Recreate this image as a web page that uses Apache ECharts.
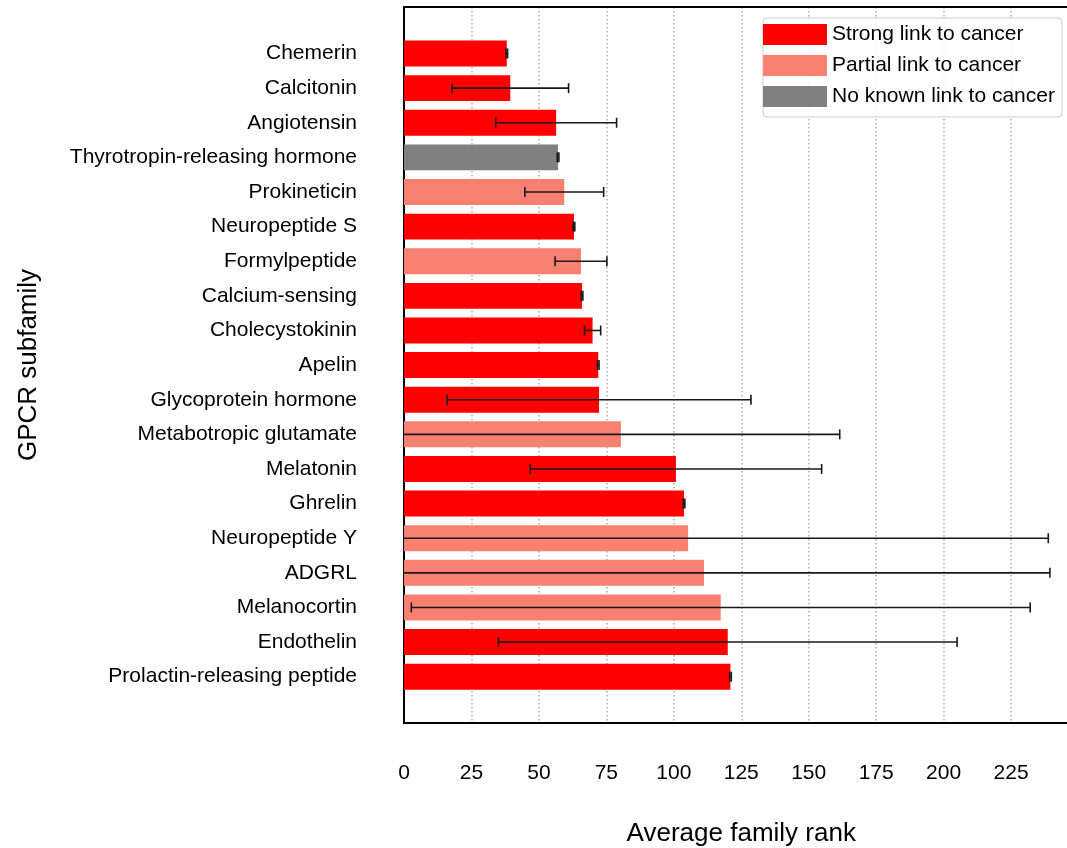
<!DOCTYPE html>
<html>
<head>
<meta charset="utf-8">
<title>GPCR subfamily average rank</title>
<script src="https://cdn.jsdelivr.net/npm/echarts@6/dist/echarts.min.js"></script>
<style>
  html, body { margin: 0; padding: 0; background: #ffffff; }
  #chart { width: 1067px; height: 848px; }
</style>
</head>
<body>
<div id="chart"></div>
<script>
// GPCR subfamilies, top to bottom
const subfamilies = [
  'Chemerin', 'Calcitonin', 'Angiotensin', 'Thyrotropin-releasing hormone',
  'Prokineticin', 'Neuropeptide S', 'Formylpeptide', 'Calcium-sensing',
  'Cholecystokinin', 'Apelin', 'Glycoprotein hormone', 'Metabotropic glutamate',
  'Melatonin', 'Ghrelin', 'Neuropeptide Y', 'ADGRL', 'Melanocortin',
  'Endothelin', 'Prolactin-releasing peptide'
];
// average family rank
const avgRank = [
  38.1, 39.4, 56.4, 57.1, 59.4, 63.0, 65.6, 66.0, 69.9, 72.0,
  72.3, 80.4, 100.8, 103.8, 105.3, 111.2, 117.4, 120.0, 121.0
];
// spread of the rank (drawn as +/- error bars)
const rankErr = [
  0.3, 21.6, 22.4, 0.3, 14.6, 0.3, 9.6, 0.3, 3.0, 0.3,
  56.3, 81.1, 54.0, 0.3, 133.5, 128.2, 114.7, 85.0, 0.3
];
// link to cancer: S = strong, P = partial, N = no known link
const cancerLink = [
  'S', 'S', 'S', 'N', 'P', 'S', 'P', 'S', 'S', 'S',
  'S', 'P', 'S', 'S', 'P', 'P', 'P', 'S', 'S'
];
const linkNames = { S: 'Strong link to cancer', P: 'Partial link to cancer', N: 'No known link to cancer' };
const linkColors = { S: '#ff0000', P: '#fa8072', N: '#808080' };
const xTicks = [0, 25, 50, 75, 100, 125, 150, 175, 200, 225, 250];

const FONT = '"Liberation Sans", Arial, sans-serif';
const PLOT_LEFT = 404;
const PLOT_WIDTH = 674.5;   // 250 units wide; right side runs past the canvas

const barSeries = ['S', 'P', 'N'].map(function (key) {
  return {
    name: linkNames[key],
    type: 'bar',
    xAxisIndex: 1,
    yAxisIndex: 1,
    stack: 'rank',
    barWidth: '75%',
    itemStyle: { color: linkColors[key] },
    data: avgRank.map(function (v, i) { return cancerLink[i] === key ? v : '-'; }),
    z: 2
  };
});

const errData = avgRank.map(function (v, i) { return [i, v - rankErr[i], v + rankErr[i]]; });

const errSeries = {
  type: 'custom',
  xAxisIndex: 1,
  yAxisIndex: 1,
  z: 5,
  silent: true,
  encode: { x: [1, 2], y: 0 },
  data: errData,
  renderItem: function (params, api) {
    const idx = api.value(0);
    const lo = api.value(1);
    const hi = api.value(2);
    const loClamped = Math.max(lo, 0);
    const pLo = api.coord([loClamped, idx]);
    const pHi = api.coord([hi, idx]);
    const capH = 5;
    const style = { stroke: '#1a1a1a', lineWidth: 1.6 };
    const children = [
      { type: 'line', shape: { x1: pLo[0], y1: pLo[1], x2: pHi[0], y2: pHi[1] }, style: style },
      { type: 'line', shape: { x1: pHi[0], y1: pHi[1] - capH, x2: pHi[0], y2: pHi[1] + capH }, style: style }
    ];
    if (lo >= 0) {
      children.push({ type: 'line', shape: { x1: pLo[0], y1: pLo[1] - capH, x2: pLo[0], y2: pLo[1] + capH }, style: style });
    }
    return { type: 'group', children: children };
  }
};

const chart = echarts.init(document.getElementById('chart'), null, { renderer: 'canvas' });
chart.setOption({
  animation: false,
  backgroundColor: '#ffffff',
  textStyle: { fontFamily: FONT },
  legend: {
    orient: 'vertical',
    left: 763,
    top: 18,
    itemWidth: 64,
    itemHeight: 21,
    itemGap: 10,
    icon: 'rect',
    padding: [6, 7, 10, 0],
    backgroundColor: 'rgba(255,255,255,0.85)',
    borderColor: '#cccccc',
    borderWidth: 1,
    borderRadius: 4,
    textStyle: { fontFamily: FONT, fontSize: 21, color: '#000000', lineHeight: 21 },
    data: ['S', 'P', 'N'].map(function (k) { return linkNames[k]; })
  },
  grid: [
    // frame with the value axis
    { left: PLOT_LEFT, top: 7, width: PLOT_WIDTH, height: 716, containLabel: false, outerBoundsMode: 'none' },
    // band area holding the bars
    { left: PLOT_LEFT, top: 36.2, width: PLOT_WIDTH, height: 657.8, containLabel: false, outerBoundsMode: 'none' }
  ],
  xAxis: [
    {
      gridIndex: 0,
      type: 'value',
      min: xTicks[0],
      max: xTicks[xTicks.length - 1],
      interval: 25,
      position: 'bottom',
      axisLine: { show: true, onZero: false, lineStyle: { color: '#000000', width: 2 } },
      axisTick: { show: false },
      axisLabel: { fontFamily: FONT, fontSize: 21, color: '#000000', margin: 40, showMaxLabel: false },
      splitLine: { show: true, lineStyle: { color: '#aaaaaa', width: 1.5, type: [1.5, 2.5] } },
      name: 'Average family rank',
      nameLocation: 'middle',
      nameGap: 98,
      nameTextStyle: { fontFamily: FONT, fontSize: 26, color: '#000000' }
    },
    {
      gridIndex: 1,
      type: 'value',
      min: xTicks[0],
      max: xTicks[xTicks.length - 1],
      interval: 25,
      show: false
    },
    {
      // top border of the frame
      gridIndex: 0,
      type: 'value',
      min: 0,
      max: 1,
      position: 'top',
      axisLine: { show: true, onZero: false, lineStyle: { color: '#000000', width: 2 } },
      axisTick: { show: false },
      axisLabel: { show: false },
      splitLine: { show: false }
    }
  ],
  yAxis: [
    {
      gridIndex: 0,
      type: 'value',
      min: 0,
      max: 1,
      axisLine: { show: true, onZero: false, lineStyle: { color: '#000000', width: 2 } },
      axisTick: { show: false },
      axisLabel: { show: false },
      splitLine: { show: false },
      name: 'GPCR subfamily',
      nameLocation: 'middle',
      nameRotate: 90,
      nameGap: 362,
      nameTextStyle: { fontFamily: FONT, fontSize: 26, color: '#000000' }
    },
    {
      gridIndex: 1,
      type: 'category',
      inverse: true,
      data: subfamilies,
      axisLine: { show: false },
      axisTick: { show: false },
      splitLine: { show: false },
      axisLabel: { fontFamily: FONT, fontSize: 21, color: '#000000', margin: 47, padding: [4, 0, 0, 0] }
    }
  ],
  series: barSeries.concat([errSeries])
});
</script>
</body>
</html>
